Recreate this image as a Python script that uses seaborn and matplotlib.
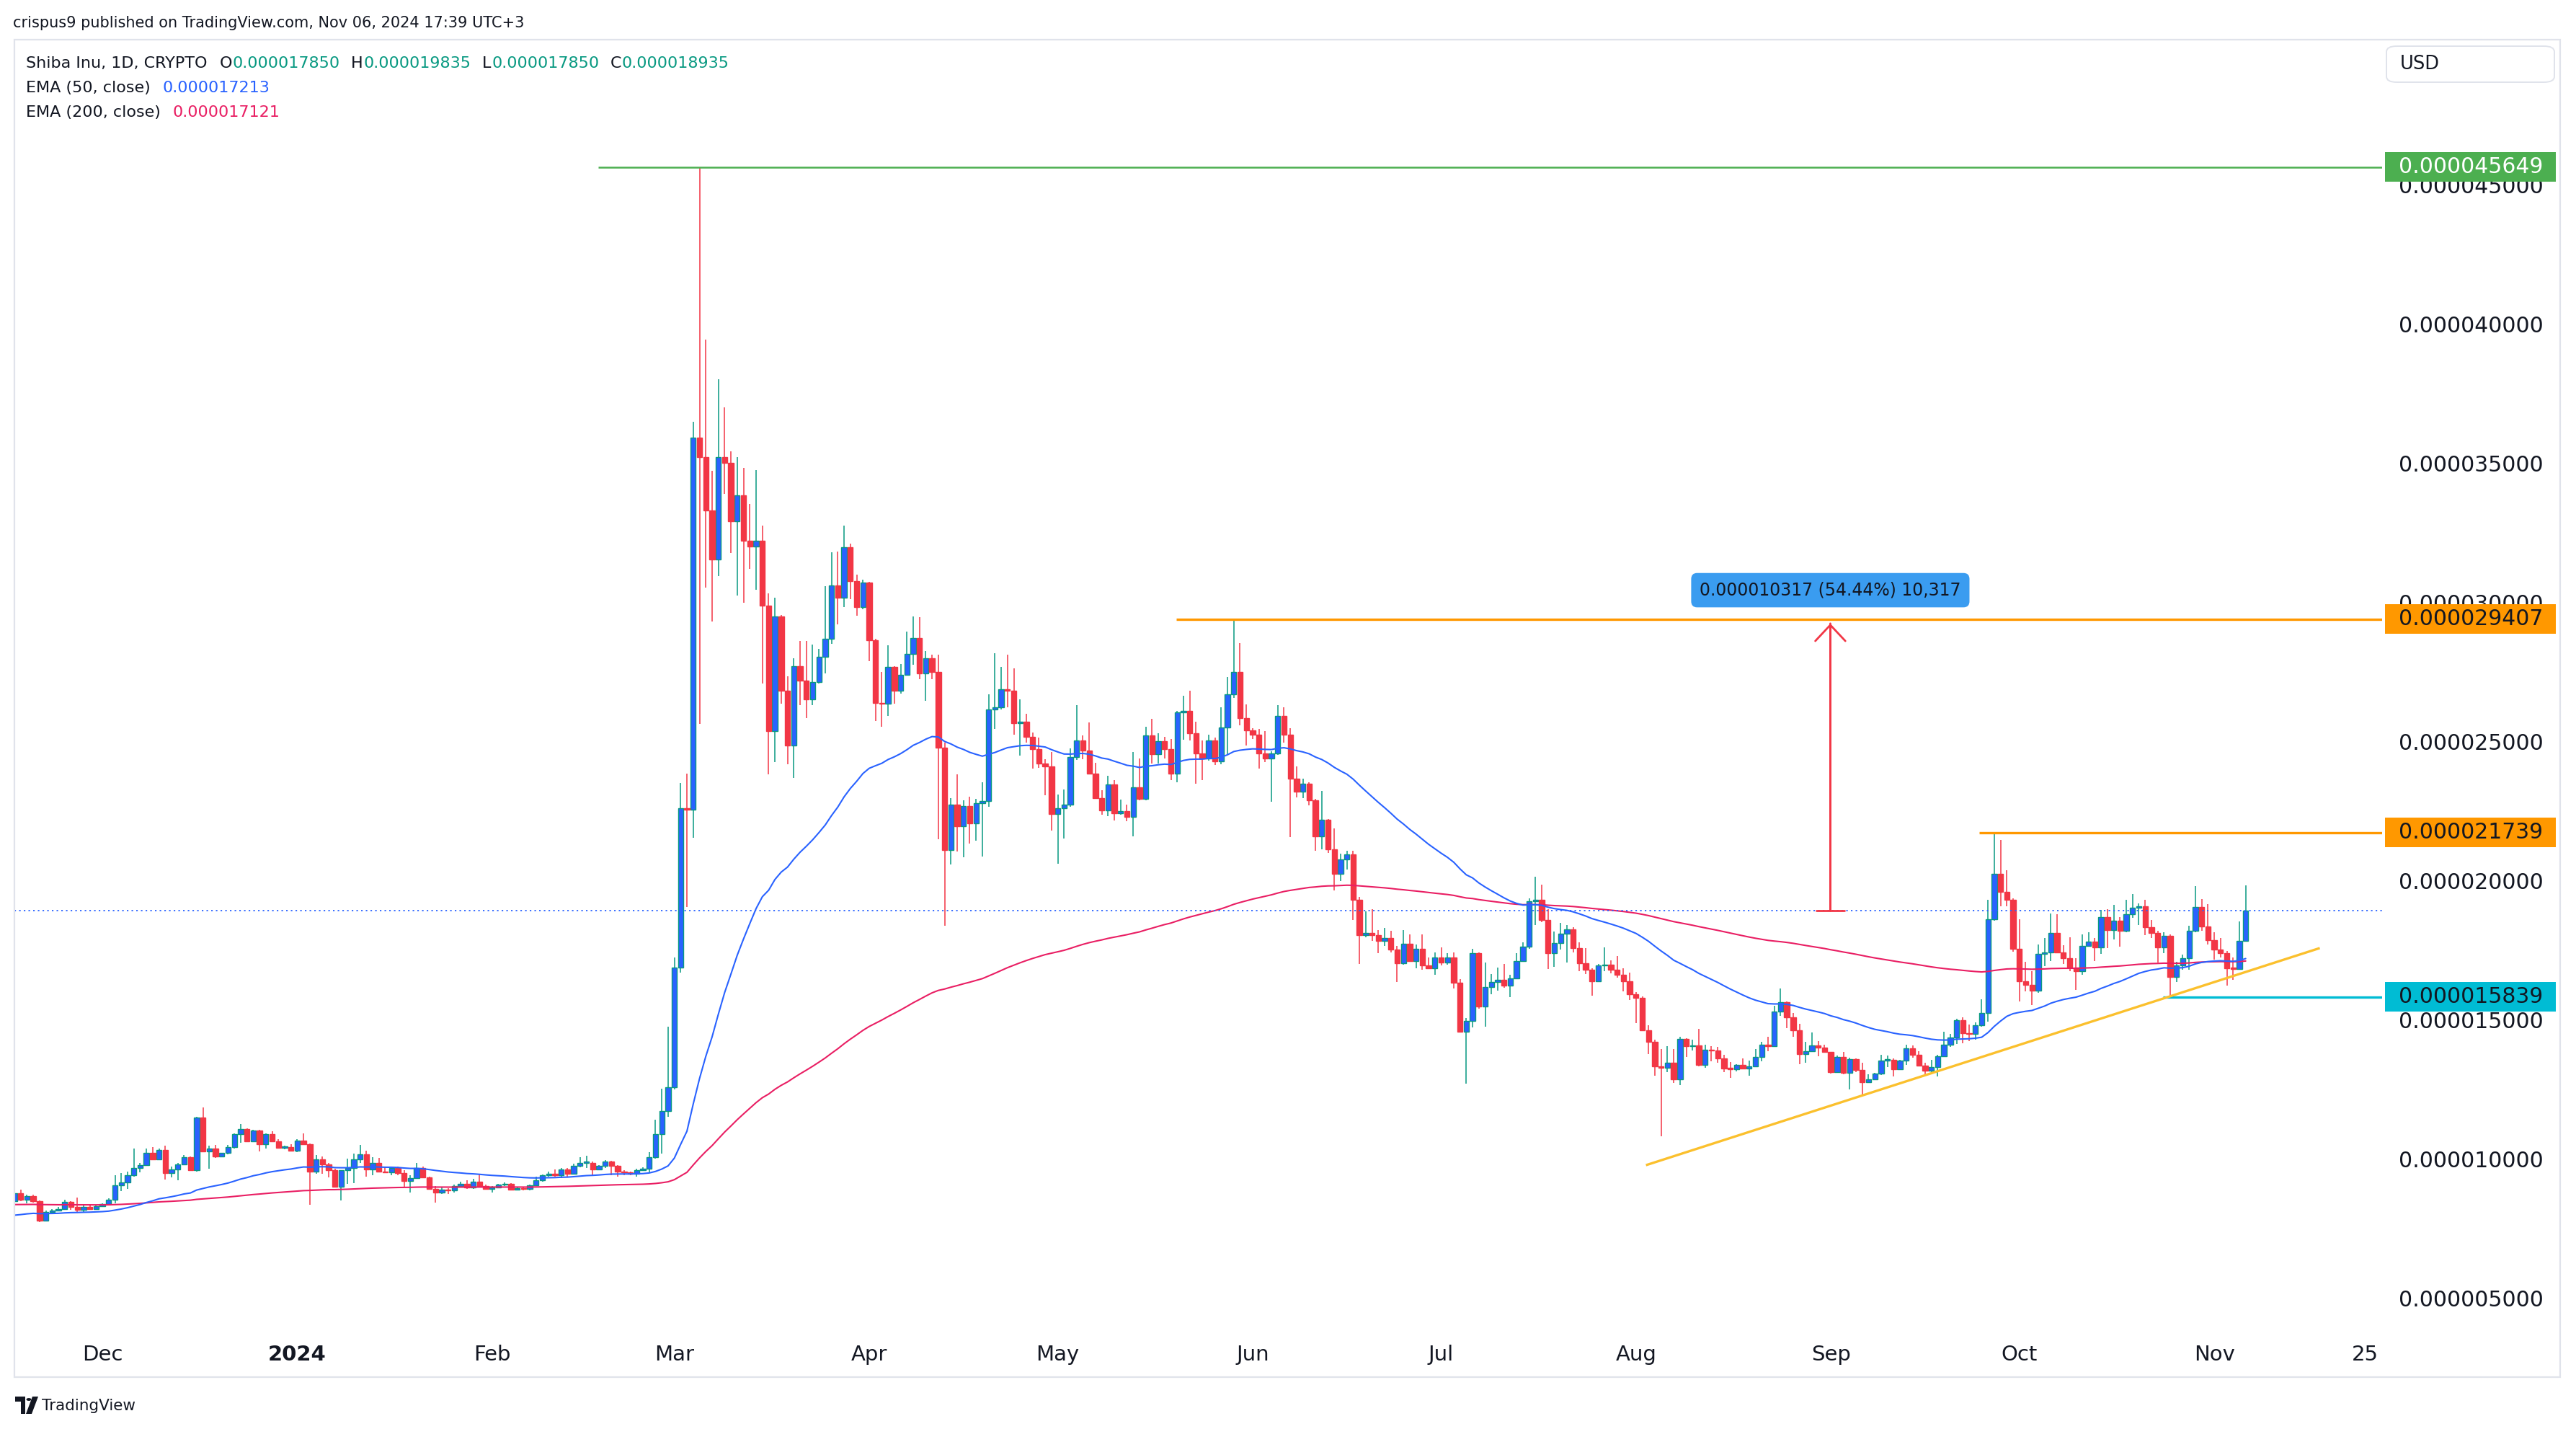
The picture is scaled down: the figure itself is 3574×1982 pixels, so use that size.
import numpy as np
import pandas as pd
import matplotlib
matplotlib.use("Agg")
import matplotlib.pyplot as plt
import matplotlib.transforms as mtransforms
from matplotlib.patches import Rectangle, FancyBboxPatch, Polygon, Circle
import seaborn as sns

# ──────────────────────────────────────────
# DATA  (prices in millionths of a USD: 1.0 == 0.000001)
# daily candles, first one on 2023-11-17
# ──────────────────────────────────────────
first_day = "2023-11-17"

opens = [
    # Nov 17-30
    8.50, 8.78, 8.56, 8.69, 8.49, 7.80, 8.10, 8.16, 8.20, 8.46, 8.30, 8.19, 8.30, 8.22,
    # Dec
    8.32, 8.39, 8.56, 9.06, 9.18, 9.43, 9.70, 9.80, 10.22, 10.00, 10.33, 9.51, 9.63, 9.82, 10.08, 9.62,
    11.50, 10.29, 10.39, 10.10, 10.22, 10.43, 10.90, 11.09, 10.65, 11.03, 10.55, 10.90, 10.65, 10.42, 10.45,
    # Jan
    10.32, 10.68, 10.55, 9.56, 10.01, 9.83, 9.62, 9.02, 9.60, 9.69, 9.99, 10.18, 9.64, 9.88, 9.57, 9.52,
    9.69, 9.51, 9.21, 9.32, 9.69, 9.34, 8.93, 8.82, 8.91, 8.88, 9.05, 9.12, 8.98, 9.20, 9.04,
    # Feb
    8.93, 9.00, 9.08, 9.12, 8.91, 8.97, 8.93, 9.07, 9.24, 9.42, 9.49, 9.42, 9.64, 9.49, 9.77,
    9.87, 9.88, 9.64, 9.77, 9.92, 9.77, 9.57, 9.52, 9.47, 9.62, 9.67, 10.07, 10.90, 11.73,
    # Mar
    12.58, 16.90, 22.62, 22.57, 35.93, 35.23, 33.32, 31.54, 35.23, 35.03, 32.92, 33.87, 32.22, 32.03, 32.22, 29.90,
    25.38, 29.51, 26.84, 24.88, 27.73, 27.19, 26.53, 27.14, 28.06, 28.69, 30.63, 30.17, 31.99, 30.77, 29.84,
    # Apr
    30.73, 28.66, 26.41, 26.36, 27.69, 26.84, 27.40, 28.16, 28.73, 27.47, 28.00, 27.50, 24.79, 21.11, 22.74,
    21.97, 22.70, 22.08, 22.80, 22.87, 26.17, 26.24, 26.90, 26.84, 25.68, 25.73, 25.19, 24.75, 24.21, 24.11,
    # May
    22.40, 22.62, 22.74, 24.46, 25.06, 24.70, 23.87, 22.99, 22.55, 23.46, 22.43, 22.50, 22.31, 23.36, 22.94, 25.23,
    24.57, 25.02, 24.74, 23.87, 26.05, 26.12, 25.32, 24.58, 24.39, 25.06, 24.31, 25.51, 26.72, 27.52, 25.86,
    # Jun
    25.42, 25.25, 24.58, 24.41, 24.58, 25.92, 25.25, 23.68, 23.20, 23.50, 22.91, 21.61, 22.20, 21.15, 20.26,
    20.78, 20.96, 19.32, 18.05, 18.14, 18.05, 17.86, 17.96, 17.53, 17.04, 17.74, 17.12, 17.56, 16.97, 16.87,
    # Jul
    17.24, 17.06, 17.24, 16.35, 14.58, 14.98, 17.40, 15.49, 16.19, 16.38, 16.44, 16.23, 16.50, 17.12, 17.64, 19.27,
    19.33, 18.61, 17.40, 17.78, 18.11, 18.26, 17.59, 17.04, 16.81, 16.40, 16.96, 17.00, 16.81, 16.63, 16.41,
    # Aug
    15.92, 15.79, 14.64, 14.21, 13.33, 13.30, 13.47, 12.88, 14.33, 14.06, 14.09, 13.40, 13.94, 13.90, 13.62, 13.27,
    13.25, 13.38, 13.26, 13.33, 13.68, 14.11, 14.07, 15.30, 15.65, 15.11, 14.63, 13.77, 13.88, 14.09, 14.01,
    # Sep
    13.85, 13.14, 13.68, 13.10, 13.60, 13.20, 12.78, 12.87, 13.08, 13.55, 13.58, 13.25, 13.55, 13.98, 13.75,
    13.36, 13.19, 13.32, 13.71, 14.11, 14.39, 15.00, 14.53, 14.50, 14.83, 15.26, 18.63, 20.27, 19.62, 19.33,
    # Oct
    17.57, 16.41, 16.28, 16.06, 17.39, 17.43, 18.13, 17.43, 17.23, 16.90, 16.77, 17.66, 17.83, 17.62, 18.70, 18.24,
    18.58, 18.20, 18.80, 19.03, 19.08, 18.35, 18.14, 17.62, 18.02, 16.55, 16.97, 17.22, 18.22, 19.06, 18.37,
    # Nov 1-6
    17.88, 17.55, 17.42, 16.87, 16.85, 17.850,
]

highs = [
    8.85, 8.91, 8.72, 8.72, 8.52, 8.17, 8.20, 8.30, 8.56, 8.50, 8.62, 8.34, 8.36, 8.36,
    8.42, 8.60, 9.43, 9.51, 9.56, 10.40, 9.86, 10.40, 10.43, 10.40, 10.50, 9.73, 9.86, 10.16, 10.10, 11.52,
    11.86, 10.48, 10.53, 10.24, 10.53, 10.93, 11.26, 11.12, 11.07, 11.05, 10.93, 11.00, 10.72, 10.50, 10.54,
    10.72, 10.93, 10.57, 10.16, 10.10, 9.88, 9.65, 9.62, 10.03, 10.20, 10.52, 10.32, 10.07, 10.05, 9.75, 9.75,
    9.73, 9.60, 9.43, 9.86, 9.73, 9.37, 9.04, 9.00, 8.95, 9.10, 9.20, 9.25, 9.30, 9.47, 9.10,
    9.05, 9.12, 9.16, 9.15, 9.00, 9.00, 9.10, 9.39, 9.45, 9.57, 9.64, 9.68, 9.68, 9.85, 10.07,
    10.12, 9.92, 9.80, 9.98, 9.96, 9.80, 9.62, 9.55, 9.66, 9.72, 10.25, 11.43, 12.53, 14.77,
    17.25, 23.53, 23.86, 36.49, 45.649, 39.45, 34.75, 38.04, 37.01, 35.43, 35.23, 34.83, 33.55, 34.77, 32.76, 30.34,
    30.17, 29.55, 27.36, 28.00, 28.62, 28.62, 28.49, 28.33, 30.60, 31.82, 31.83, 32.78, 32.12, 31.00, 30.83,
    30.75, 28.70, 27.50, 28.46, 27.73, 27.80, 28.95, 29.51, 29.48, 28.26, 28.13, 28.13, 24.98, 22.98, 23.83,
    22.90, 23.04, 22.94, 23.56, 26.70, 28.18, 27.70, 28.13, 27.65, 26.53, 26.01, 25.34, 25.15, 24.37, 24.63,
    23.12, 23.29, 24.76, 26.31, 25.23, 25.71, 24.24, 23.26, 23.78, 23.63, 22.92, 22.74, 24.63, 24.41, 25.53, 25.84,
    25.30, 25.19, 25.09, 26.11, 26.66, 26.83, 25.72, 25.06, 25.25, 25.15, 26.23, 27.32, 29.407, 28.54, 26.35,
    25.49, 25.47, 25.39, 24.67, 26.31, 26.23, 25.49, 24.12, 23.67, 23.55, 22.95, 23.23, 22.23, 21.89, 20.99,
    21.09, 21.09, 19.44, 18.92, 19.00, 18.24, 18.32, 18.21, 17.68, 18.24, 18.09, 17.72, 18.09, 17.24, 17.43,
    17.62, 17.41, 17.43, 16.48, 15.08, 17.56, 17.43, 17.06, 16.65, 16.90, 17.02, 16.63, 17.40, 17.80, 19.38, 20.16,
    19.87, 19.00, 18.18, 18.49, 18.42, 18.34, 17.80, 17.60, 16.87, 17.02, 17.62, 17.15, 17.31, 16.86, 16.70,
    16.02, 15.86, 14.83, 14.31, 13.97, 14.07, 13.97, 14.40, 14.35, 14.29, 14.68, 14.11, 14.07, 14.05, 13.75, 13.49,
    13.42, 13.62, 13.55, 13.97, 14.22, 14.40, 15.52, 16.14, 15.66, 15.26, 14.87, 14.22, 14.57, 14.24, 14.12,
    13.87, 13.72, 13.86, 13.66, 13.62, 13.47, 13.06, 13.10, 13.75, 13.72, 13.62, 13.58, 14.11, 14.09, 13.88,
    13.46, 13.58, 13.75, 14.58, 14.50, 15.05, 15.09, 14.85, 14.91, 15.76, 19.32, 21.739, 21.48, 20.38, 19.38,
    18.63, 17.10, 16.77, 17.72, 17.95, 18.84, 18.80, 17.69, 17.99, 17.22, 18.08, 18.15, 17.94, 18.96, 18.99, 19.14,
    18.71, 19.32, 19.53, 19.19, 19.32, 18.61, 18.20, 18.17, 18.07, 17.11, 17.36, 18.39, 19.81, 19.36, 19.17,
    18.17, 17.94, 17.48, 17.24, 18.54, 19.835,
]

lows = [
    8.45, 8.49, 8.43, 8.45, 7.74, 7.79, 8.08, 8.13, 8.18, 8.18, 8.09, 8.08, 8.20, 8.20,
    8.28, 8.36, 8.43, 8.87, 8.93, 9.38, 9.54, 9.77, 9.98, 9.98, 9.28, 9.36, 9.25, 9.80, 9.58, 9.56,
    10.25, 9.67, 10.05, 10.07, 10.18, 10.40, 10.59, 10.62, 10.62, 10.29, 10.38, 10.62, 10.38, 10.36, 10.30,
    10.25, 10.52, 8.37, 9.47, 9.47, 9.36, 8.98, 8.53, 9.12, 9.15, 9.86, 9.38, 9.43, 9.55, 9.50, 9.43,
    9.43, 9.01, 8.82, 9.30, 9.32, 8.91, 8.45, 8.75, 8.75, 8.82, 9.00, 8.93, 8.93, 9.00, 8.91,
    8.82, 8.96, 9.04, 8.88, 8.88, 8.88, 8.88, 9.05, 9.20, 9.38, 9.38, 9.32, 9.39, 9.45, 9.72,
    9.69, 9.44, 9.60, 9.70, 9.44, 9.37, 9.44, 9.42, 9.39, 9.60, 9.52, 10.02, 10.20, 11.53,
    12.51, 16.70, 19.06, 21.55, 25.64, 30.53, 29.33, 30.96, 33.91, 31.79, 30.25, 30.00, 31.22, 30.47, 27.10, 23.84,
    24.28, 26.37, 24.19, 23.70, 26.31, 25.85, 26.33, 27.10, 27.47, 28.53, 29.21, 29.85, 30.14, 29.54, 29.77,
    27.89, 25.75, 25.55, 25.94, 26.37, 26.73, 27.40, 27.76, 27.26, 26.47, 27.26, 21.51, 18.38, 20.60, 21.06,
    20.86, 21.35, 21.44, 20.89, 22.67, 25.47, 26.17, 26.24, 25.27, 24.50, 24.96, 24.04, 24.07, 23.07, 21.82,
    20.61, 21.52, 22.66, 24.35, 24.37, 23.85, 22.94, 22.37, 22.34, 22.17, 22.38, 22.14, 21.60, 22.90, 22.90, 24.21,
    24.21, 24.41, 23.63, 23.55, 25.08, 25.04, 23.49, 23.63, 24.33, 24.18, 24.20, 24.54, 26.57, 25.60, 24.87,
    25.10, 24.04, 24.26, 22.86, 24.54, 24.97, 21.59, 23.01, 22.98, 22.72, 21.09, 21.14, 21.00, 19.66, 20.00,
    20.41, 18.61, 17.02, 17.99, 17.84, 17.41, 17.68, 17.43, 16.38, 17.00, 17.10, 16.87, 16.81, 16.85, 16.63,
    16.96, 17.00, 16.13, 14.55, 12.72, 14.73, 15.41, 14.77, 15.94, 16.07, 16.17, 15.82, 16.48, 17.09, 17.56, 18.42,
    18.52, 16.85, 16.91, 17.53, 17.06, 17.43, 16.75, 16.65, 15.88, 16.38, 16.75, 16.69, 16.53, 16.04, 15.73,
    14.90, 14.61, 13.79, 13.01, 10.84, 13.14, 12.75, 12.67, 13.68, 13.90, 13.33, 13.30, 13.53, 13.46, 13.14, 12.93,
    13.16, 13.25, 13.01, 13.32, 13.51, 13.88, 14.05, 15.15, 14.72, 14.40, 13.43, 13.46, 13.88, 13.71, 13.83,
    13.07, 13.13, 13.06, 12.50, 13.14, 12.32, 12.75, 12.84, 13.04, 13.32, 12.97, 13.23, 13.40, 13.64, 13.34,
    13.04, 13.07, 12.99, 13.68, 14.05, 14.14, 14.18, 14.25, 14.31, 14.77, 14.94, 18.58, 19.08, 19.08, 17.46,
    15.66, 16.04, 15.54, 15.99, 16.93, 17.13, 17.40, 17.01, 16.75, 16.08, 16.64, 17.63, 17.12, 17.39, 17.59, 17.91,
    17.63, 18.17, 18.67, 18.43, 18.05, 17.96, 17.07, 17.42, 15.839, 16.38, 16.81, 16.81, 18.15, 18.22, 17.72,
    17.18, 17.25, 16.24, 16.44, 16.86, 17.850,
]

closes = [
    8.78, 8.56, 8.69, 8.49, 7.80, 8.10, 8.16, 8.20, 8.46, 8.30, 8.19, 8.30, 8.22, 8.32,
    8.39, 8.56, 9.06, 9.18, 9.43, 9.70, 9.80, 10.22, 10.00, 10.33, 9.51, 9.63, 9.82, 10.08, 9.62, 11.50,
    10.29, 10.39, 10.10, 10.22, 10.43, 10.90, 11.09, 10.65, 11.03, 10.55, 10.90, 10.65, 10.42, 10.45, 10.32,
    10.68, 10.55, 9.56, 10.01, 9.83, 9.62, 9.02, 9.60, 9.69, 9.99, 10.18, 9.64, 9.88, 9.57, 9.52, 9.69,
    9.51, 9.21, 9.32, 9.69, 9.34, 8.93, 8.82, 8.91, 8.88, 9.05, 9.12, 8.98, 9.20, 9.04, 8.93,
    9.00, 9.08, 9.12, 8.91, 8.97, 8.93, 9.07, 9.24, 9.42, 9.49, 9.42, 9.64, 9.49, 9.77, 9.87,
    9.88, 9.64, 9.77, 9.92, 9.77, 9.57, 9.52, 9.47, 9.62, 9.67, 10.07, 10.90, 11.73, 12.58,
    16.90, 22.62, 22.57, 35.93, 35.23, 33.32, 31.54, 35.23, 35.03, 32.92, 33.87, 32.22, 32.03, 32.22, 29.90, 25.38,
    29.51, 26.84, 24.88, 27.73, 27.19, 26.53, 27.14, 28.06, 28.69, 30.63, 30.17, 31.99, 30.77, 29.84, 30.73,
    28.66, 26.41, 26.36, 27.69, 26.84, 27.40, 28.16, 28.73, 27.47, 28.00, 27.50, 24.79, 21.11, 22.74, 21.97,
    22.70, 22.08, 22.80, 22.87, 26.17, 26.24, 26.90, 26.84, 25.68, 25.73, 25.19, 24.75, 24.21, 24.11, 22.40,
    22.62, 22.74, 24.46, 25.06, 24.70, 23.87, 22.99, 22.55, 23.46, 22.43, 22.50, 22.31, 23.36, 22.94, 25.23, 24.57,
    25.02, 24.74, 23.87, 26.05, 26.12, 25.32, 24.58, 24.39, 25.06, 24.31, 25.51, 26.72, 27.52, 25.86, 25.42,
    25.25, 24.58, 24.41, 24.58, 25.92, 25.25, 23.68, 23.20, 23.50, 22.91, 21.61, 22.20, 21.15, 20.26, 20.78,
    20.96, 19.32, 18.05, 18.14, 18.05, 17.86, 17.96, 17.53, 17.04, 17.74, 17.12, 17.56, 16.97, 16.87, 17.24,
    17.06, 17.24, 16.35, 14.58, 14.98, 17.40, 15.49, 16.19, 16.38, 16.44, 16.23, 16.50, 17.12, 17.64, 19.27, 19.33,
    18.61, 17.40, 17.78, 18.11, 18.26, 17.59, 17.04, 16.81, 16.40, 16.96, 17.00, 16.81, 16.63, 16.41, 15.92,
    15.79, 14.64, 14.21, 13.33, 13.30, 13.47, 12.88, 14.33, 14.06, 14.09, 13.40, 13.94, 13.90, 13.62, 13.27, 13.25,
    13.38, 13.26, 13.33, 13.68, 14.11, 14.07, 15.30, 15.65, 15.11, 14.63, 13.77, 13.88, 14.09, 14.01, 13.85,
    13.14, 13.68, 13.10, 13.60, 13.20, 12.78, 12.87, 13.08, 13.55, 13.58, 13.25, 13.55, 13.98, 13.75, 13.36,
    13.19, 13.32, 13.71, 14.11, 14.39, 15.00, 14.53, 14.50, 14.83, 15.26, 18.63, 20.27, 19.62, 19.33, 17.57,
    16.41, 16.28, 16.06, 17.39, 17.43, 18.13, 17.43, 17.23, 16.90, 16.77, 17.66, 17.83, 17.62, 18.70, 18.24, 18.58,
    18.20, 18.80, 19.03, 19.08, 18.35, 18.14, 17.62, 18.02, 16.55, 16.97, 17.22, 18.22, 19.06, 18.37, 17.88,
    17.55, 17.42, 16.87, 16.85, 17.85, 18.935,
]

# indicator starting values (EMA level on the first visible day)
ema50_start = 7.96
ema200_start = 8.37
ema50_label = "0.000017213"
ema200_label = "0.000017121"

# drawn horizontal rays: price level, anchor time
level_prices = [45.649, 29.407, 21.739, 15.839]
level_starts = ["2024-02-17 22:00", "2024-05-19 21:00", "2024-09-24 14:00", "2024-10-23 19:00"]
level_colors = ["#4CAF50", "#FF9800", "#FF9800", "#00BCD4"]
level_textcol = ["white", "#131722", "#131722", "#131722"]

# rising trend line (two anchor points)
trend_times = ["2024-08-02 14:00", "2024-11-17 19:00"]
trend_prices = [9.79, 17.59]

# price range measurement
meas_time = "2024-08-31 22:00"
meas_from, meas_to = 18.935, 29.252
meas_text = "0.000010317 (54.44%) 10,317"

last_price = 18.935

tick_dates = ["2023-12-01", "2024-01-01", "2024-02-01", "2024-03-01", "2024-04-01", "2024-05-01",
              "2024-06-01", "2024-07-01", "2024-08-01", "2024-09-01", "2024-10-01", "2024-11-01",
              "2024-11-25"]
tick_names = ["Dec", "2024", "Feb", "Mar", "Apr", "May", "Jun", "Jul", "Aug", "Sep", "Oct", "Nov", "25"]
price_ticks = [5, 10, 15, 20, 25, 30, 35, 40, 45]

# ──────────────────────────────────────────
# PREP
# ──────────────────────────────────────────
assert len(opens) == len(highs) == len(lows) == len(closes)
df = pd.DataFrame({"open": opens, "high": highs, "low": lows, "close": closes})
df["date"] = pd.date_range(first_day, periods=len(df), freq="D")


def ema(values, span, start):
    alpha = 2.0 / (span + 1)
    out, prev = [], start
    for v in values:
        prev = alpha * v + (1 - alpha) * prev
        out.append(prev)
    return out


df["ema50"] = ema(df["close"], 50, ema50_start)
df["ema200"] = ema(df["close"], 200, ema200_start)

UP_BODY, UP_EDGE, DOWN = "#2962FF", "#089981", "#F23645"
DARK = "#131722"
BLUE = "#2962FF"
PINK = "#E91E63"

# ──────────────────────────────────────────
# FIGURE
# ──────────────────────────────────────────
sns.set_style("white")
plt.rcParams["font.family"] = ["DejaVu Sans"]

W, H = 3574, 1982
fig = plt.figure(figsize=(W / 100, H / 100), dpi=100)
fig.patch.set_facecolor("white")


def px(x, y):
    return x / W, 1 - y / H


ax = fig.add_axes([20 / W, 1 - 1850 / H, (3305 - 20) / W, (1850 - 55) / H])
ax.set_facecolor("white")
for s in ax.spines.values():
    s.set_visible(False)

up = df["close"] >= df["open"]
dn = ~up
body_lo = df[["open", "close"]].min(axis=1)
body_h = (df["close"] - df["open"]).abs().clip(lower=0.04)

ax.vlines(df["date"][up], df["low"][up], df["high"][up], color=UP_EDGE, lw=1.1, zorder=2)
ax.vlines(df["date"][dn], df["low"][dn], df["high"][dn], color=DOWN, lw=1.1, zorder=2)
ax.bar(df["date"][up], body_h[up], bottom=body_lo[up], width=0.84,
       color=UP_BODY, edgecolor=UP_EDGE, linewidth=1.0, zorder=3)
ax.bar(df["date"][dn], body_h[dn], bottom=body_lo[dn], width=0.84,
       color=DOWN, edgecolor=DOWN, linewidth=1.0, zorder=3)

sns.lineplot(x=df["date"], y=df["ema200"], ax=ax, color=PINK, lw=1.5, zorder=4)
sns.lineplot(x=df["date"], y=df["ema50"], ax=ax, color=BLUE, lw=1.5, zorder=4)

x_left = pd.Timestamp(first_day)
x_right = pd.Timestamp("2024-11-27 17:00")
ax.set_xlim(x_left, x_right)
ax.set_ylim(3.73, 50.23)

# last price dotted line
ax.axhline(last_price, color=BLUE, lw=1.3, ls=(0, (1.2, 2.4)), zorder=4)

# horizontal rays + coloured price labels
blend = mtransforms.blended_transform_factory(ax.transAxes, ax.transData)
for lvl, start, col, tcol in zip(level_prices, level_starts, level_colors, level_textcol):
    lw = 1.8 if col == "#4CAF50" else 2.4
    ax.hlines(lvl, pd.Timestamp(start), x_right, color=col, lw=lw, zorder=5)
    ax.add_patch(Rectangle((1.0012, lvl - 0.53), 0.0722, 1.06, transform=blend,
                           fc=col, ec="none", clip_on=False, zorder=6))
    ax.text(1.0 + 23 / 3285, lvl, f"{lvl * 1e-6:.9f}", transform=blend, ha="left", va="center",
            fontsize=21.5, color=tcol, clip_on=False, zorder=7)

# trend line
ax.plot(pd.to_datetime(trend_times), trend_prices, color="#FBC02D", lw=2.4,
        solid_capstyle="butt", zorder=5)

# price range measurement
mt = pd.Timestamp(meas_time)
ax.annotate("", xy=(mt, meas_to), xytext=(mt, meas_from),
            arrowprops=dict(arrowstyle="->,head_length=0.8,head_width=0.75", color=DOWN,
                            lw=2.0, shrinkA=0, shrinkB=0, mutation_scale=20), zorder=6)
ax.annotate("", xy=(mt, meas_to), xytext=(mt, meas_from),
            arrowprops=dict(arrowstyle="]-,widthA=0.7,lengthA=0", color=DOWN,
                            lw=2.0, shrinkA=0, shrinkB=0, mutation_scale=20), zorder=6)
ax.text(mt, 30.45, meas_text, ha="center", va="center", fontsize=17, color=DARK, zorder=7,
        bbox=dict(boxstyle="round,pad=0.5,rounding_size=0.35", fc="#3A9CF0", ec="none"))

# axes ticks
ax.set_xlabel("")
ax.set_ylabel("")
ax.yaxis.tick_right()
ax.set_yticks(price_ticks)
ax.set_yticklabels([f"{v * 1e-6:.9f}" for v in price_ticks])
ax.set_xticks(pd.to_datetime(tick_dates))
ax.set_xticklabels(tick_names)
ax.tick_params(axis="y", length=0, pad=16.5, labelsize=21.5, labelcolor=DARK)
ax.tick_params(axis="x", length=0, pad=11, labelsize=21, labelcolor=DARK)
ax.get_xticklabels()[1].set_fontweight("bold")
ax.grid(False)

# outer frame
fig.add_artist(Rectangle(px(20, 1910), (3552 - 20) / W, (1910 - 55) / H, transform=fig.transFigure,
                         fill=False, ec="#E0E3EB", lw=1.6))

# USD box
fig.add_artist(FancyBboxPatch(px(3311, 114), 233 / W, 50 / H, transform=fig.transFigure,
                              boxstyle="round,pad=0,rounding_size=0.004", fc="white", ec="#E0E3EB", lw=1.4))
fig.text(*px(3330, 89), "USD", fontsize=18.5, color=DARK, va="center", ha="left")

# header + legend text
renderer = fig.canvas.get_renderer()


def text_runs(x, y, pieces, size):
    for txt, col, gap in pieces:
        t = fig.text(*px(x, y), txt, color=col, fontsize=size, va="center", ha="left")
        x += t.get_window_extent(renderer).width + gap


fig.text(*px(18, 32), "crispus9 published on TradingView.com, Nov 06, 2024 17:39 UTC+3",
         fontsize=15, color=DARK, va="center", ha="left")

green = UP_EDGE
last = df.iloc[-1]
text_runs(36, 88, [("Shiba Inu, 1D, CRYPTO", DARK, 17),
                   ("O", DARK, 1), (f"{last['open'] * 1e-6:.9f}", green, 15),
                   ("H", DARK, 1), (f"{last['high'] * 1e-6:.9f}", green, 15),
                   ("L", DARK, 1), (f"{last['low'] * 1e-6:.9f}", green, 15),
                   ("C", DARK, 1), (f"{last['close'] * 1e-6:.9f}", green, 0)], 16)
text_runs(36, 122, [("EMA (50, close)", DARK, 17), (ema50_label, BLUE, 0)], 16)
text_runs(36, 156, [("EMA (200, close)", DARK, 17), (ema200_label, PINK, 0)], 16)

# TradingView logo
fig.add_artist(Polygon([px(21, 1937), px(35, 1937), px(35, 1961), px(29, 1961), px(29, 1944), px(21, 1944)],
                       closed=True, transform=fig.transFigure, fc=DARK, ec="none"))
fig.add_artist(Circle(px(40, 1941), 3.5 / W, transform=fig.transFigure, fc=DARK, ec="none"))
fig.add_artist(Polygon([px(45, 1937), px(53, 1937), px(44, 1961), px(36, 1961)],
                       closed=True, transform=fig.transFigure, fc=DARK, ec="none"))
fig.text(*px(58, 1950), "TradingView", fontsize=15.5, color=DARK, va="center", ha="left")

plt.savefig("out.png", dpi=100)
plt.close()
print("Saved: out.png")
